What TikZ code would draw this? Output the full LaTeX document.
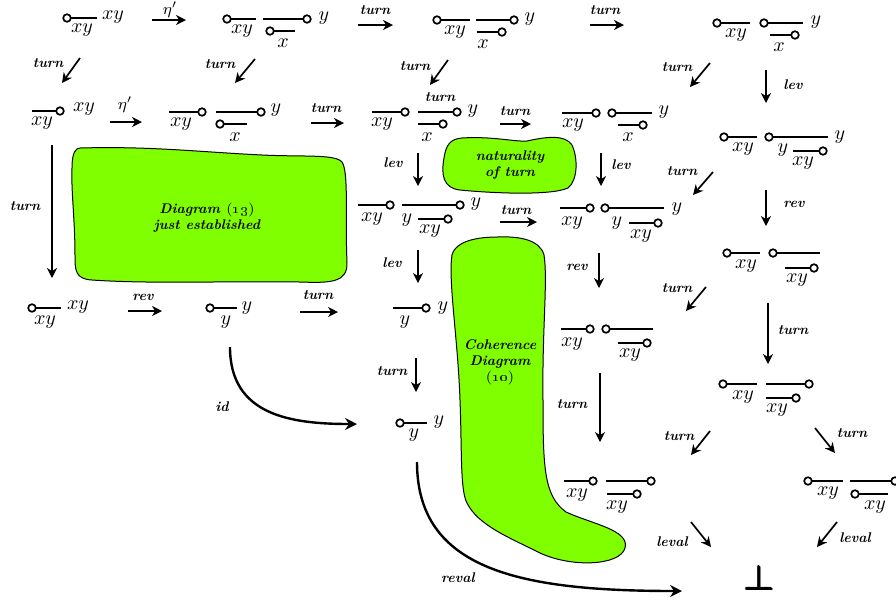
\documentclass[tikz,border=0pt]{standalone}
\usepackage{amsmath,bm}
\usetikzlibrary{arrows.meta}
\definecolor{blobgreen}{RGB}{128,255,0}
\tikzset{
  strand/.style={line width=1pt},
  knob/.style={line width=0.85pt, fill=white},
  mor/.style={line width=0.85pt, -{Stealth[length=5pt,width=5pt,inset=1.6pt]}},
  bigmor/.style={line width=1.2pt, -{Stealth[length=6pt,width=6pt,inset=2pt]}},
  lab/.style={inner sep=0pt},
  mlab/.style={inner sep=0pt, font=\scriptsize\bfseries\itshape},
  blob/.style={fill=blobgreen, draw=black, line width=0.5pt},
  blobtext/.style={inner sep=0pt, align=center, font=\scriptsize\bfseries\itshape},
}
% strand with its knob on the left end / on the right end
\newcommand\sL[3]{\draw[strand] (#1,#3) -- (#2,#3); \draw[knob] (#1,#3) circle[radius=1.9pt];}
\newcommand\sR[3]{\draw[strand] (#1,#3) -- (#2,#3); \draw[knob] (#2,#3) circle[radius=1.9pt];}
% straight morphism between two named points
\newcommand\mor[3]{\coordinate (#1-s) at (#2); \coordinate (#1-t) at (#3); \draw[mor] (#1-s) -- (#1-t);}
\begin{document}
\begin{tikzpicture}[x=0.5pt,y=-0.5pt]
\useasboundingbox (0,0) rectangle (896,602);

% ---- regions ----
\draw[blob] (80,148) .. controls (150,146) and (200,152) .. (262,155)
  .. controls (305,157) and (335,154) .. (342,162)
  .. controls (349,172) and (345,220) .. (347,262)
  .. controls (348,283) and (330,283) .. (300,282)
  .. controls (220,281) and (150,284) .. (92,280)
  .. controls (75,279) and (75,270) .. (75,255)
  .. controls (75,220) and (71,190) .. (72,168)
  .. controls (72,152) and (76,148) .. (80,148) -- cycle;
\node[blobtext] (d13) at (207,218) {Diagram \textnormal{(\oldstylenums{13})}\\just established};

\draw[blob] (462,138) .. controls (492,136) and (515,142) .. (527,141)
  .. controls (545,137) and (565,134) .. (572,145)
  .. controls (578,158) and (578,180) .. (568,188)
  .. controls (550,196) and (490,193) .. (460,190)
  .. controls (443,188) and (441,175) .. (444,158)
  .. controls (446,145) and (450,139) .. (462,138) -- cycle;
\node[blobtext] (nat) at (510,165) {naturality\\of turn};

\draw[blob] (497,237) .. controls (520,236) and (540,240) .. (544,255)
  .. controls (548,280) and (542,330) .. (543,400)
  .. controls (543,468) and (544,496) .. (566,512)
  .. controls (592,524) and (630,530) .. (625,548)
  .. controls (620,566) and (570,568) .. (538,552)
  .. controls (508,537) and (478,525) .. (467,503)
  .. controls (460,490) and (462,450) .. (460,400)
  .. controls (458,340) and (448,280) .. (452,255)
  .. controls (456,240) and (480,237) .. (497,237) -- cycle;
\node[blobtext] (coh) at (500,362) {Coherence\\Diagram\\\textnormal{(\oldstylenums{10})}};

% ---- row 1 ----
\sL{67}{97}{18} \node[lab] (o1a) at (82,30) {$xy$}; \node[lab] (o1b) at (113,17) {$xy$};
\mor{a1}{152,20}{186,20} \node[lab,font=\footnotesize] (a1l) at (170,10) {$\eta'$};
\sL{227}{256}{19} \node[lab] (o2a) at (242,31) {$xy$};
\sR{263}{307}{19} \node[lab] (o2b) at (324,18) {$y$};
\sL{270}{295}{31} \node[lab] (o2c) at (283,43) {$x$};
\mor{a2}{358,25}{393,25} \node[mlab] (a2l) at (375,10) {turn};
\sL{437}{470}{20} \node[lab] (o3a) at (455,32) {$xy$};
\sR{476}{514}{20} \node[lab] (o3b) at (530,19) {$y$};
\sR{477}{502}{32} \node[lab] (o3c) at (483,44) {$x$};
\mor{a3}{590,25}{624,25} \node[mlab] (a3l) at (605,10) {turn};
\sL{717}{750}{23} \node[lab] (o4a) at (736,35) {$xy$};
\sL{764}{803}{23} \node[lab] (o4b) at (816,22) {$y$};
\sR{770}{795}{35} \node[lab] (o4c) at (779,47) {$x$};

% ---- row 1 to row 2 ----
\mor{b1}{80,58}{62,83} \node[mlab] (b1l) at (48,63) {turn};
\mor{b2}{255,59}{235,83} \node[mlab] (b2l) at (220,64) {turn};
\mor{b3}{448,60}{430,85} \node[mlab] (b3l) at (415,66) {turn};
\mor{b4}{710,63}{690,87} \node[mlab] (b4l) at (677,67) {turn};
\mor{b5}{766,70}{766,103} \node[mlab] (b5l) at (793,85) {lev};

% ---- row 2 ----
\sR{32}{60}{111} \node[lab] (p1a) at (42,123) {$xy$}; \node[lab] (p1b) at (84,109) {$xy$};
\mor{c1}{110,122}{142,122} \node[lab,font=\footnotesize] (c1l) at (125,105) {$\eta'$};
\sR{169}{202}{112} \node[lab] (p2a) at (181,124) {$xy$};
\sR{216}{261}{112} \node[lab] (p2b) at (276,110) {$y$};
\sL{220}{247}{124} \node[lab] (p2c) at (235,137) {$x$};
\mor{c2}{311,123}{344,123} \node[mlab] (c2l) at (326,108) {turn};
\sR{372}{405}{112} \node[lab] (p3a) at (382,124) {$xy$};
\sR{418}{457}{112} \node[lab] (p3b) at (473,111) {$y$};
\sR{418}{443}{124} \node[lab] (p3c) at (427,137) {$x$};
\node[mlab] (p3t) at (440,97) {turn};
\mor{c3}{500,124}{531,124} \node[mlab] (c3l) at (515,111) {turn};
\sR{562}{596}{113} \node[lab] (p4a) at (573,125) {$xy$};
\sL{612}{652}{113} \node[lab] (p4b) at (664,112) {$y$};
\sR{618}{643}{125} \node[lab] (p4c) at (628,137) {$x$};

\sL{724}{757}{137} \node[lab] (r2a) at (743,149) {$xy$};
\sL{769}{828}{137} \node[lab] (r2b) at (840,137) {$y$};
\node[lab] (r2c) at (783,150) {$y$};
\sR{793}{823}{151} \node[lab] (r2d) at (803,163) {$xy$};

\mor{d1}{418,153}{418,186} \node[mlab] (d1l) at (393,163) {lev};
\mor{d2}{601,153}{601,186} \node[mlab] (d2l) at (621,165) {lev};
\mor{d3}{713,172}{693,195} \node[mlab] (d3l) at (682,171) {turn};
\mor{d4}{766,190}{766,226} \node[mlab] (d4l) at (794,204) {rev};

% ---- row 3 ----
\sR{358}{390}{205} \node[lab] (q1a) at (372,219) {$xy$};
\sR{402}{460}{205} \node[lab] (q1b) at (476,204) {$y$};
\node[lab] (q1c) at (407,220) {$y$};
\sR{418}{448}{219} \node[lab] (q1d) at (430,231) {$xy$};
\mor{e1}{500,222}{537,222} \node[mlab] (e1l) at (516,210) {turn};
\sR{560}{590}{208} \node[lab] (q2a) at (572,223) {$xy$};
\sL{605}{664}{208} \node[lab] (q2b) at (677,209) {$y$};
\node[lab] (q2c) at (617,223) {$y$};
\sR{629}{658}{223} \node[lab] (q2d) at (641,236) {$xy$};

\sL{727}{760}{253} \node[lab] (r3a) at (746,266) {$xy$};
\sL{773}{820}{253}
\sR{785}{814}{268} \node[lab] (r3b) at (797,280) {$xy$};

\mor{f1}{599,253}{599,288} \node[mlab] (f1l) at (577,267) {rev};
\mor{f2}{706,287}{686,311} \node[mlab] (f2l) at (677,288) {turn};
\mor{f3}{768,303}{768,364} \node[mlab] (f3l) at (793,330) {turn};

\sR{561}{590}{329} \node[lab] (q3a) at (572,344) {$xy$};
\sL{606}{653}{329}
\sR{618}{647}{343} \node[lab] (q3b) at (630,355) {$xy$};

\sL{723}{757}{384} \node[lab] (r4a) at (743,397) {$xy$};
\sR{766}{809}{384}
\sR{766}{796}{398} \node[lab] (r4b) at (777,410) {$xy$};

\mor{g1}{600,373}{600,442} \node[mlab] (g1l) at (572,404) {turn};
\mor{g2}{710,431}{691,455} \node[mlab] (g2l) at (679,436) {turn};
\mor{g3}{815,428}{835,453} \node[mlab] (g3l) at (852,433) {turn};

\sR{564}{593}{481} \node[lab] (q4a) at (577,495) {$xy$};
\sR{606}{651}{481}
\sR{607}{637}{494} \node[lab] (q4b) at (617,507) {$xy$};

\sL{808}{843}{481} \node[lab] (r5a) at (828,493) {$xy$};
\sR{850}{895}{481}
\sL{855}{888}{494} \node[lab] (r5b) at (875,507) {$xy$};

\mor{h1}{691,522}{711,547} \node[mlab] (h1l) at (672,542) {leval};
\mor{h2}{837,522}{817,547} \node[mlab] (h2l) at (855,538) {leval};
\node[lab,font=\LARGE] (bot) at (760,578) {$\pmb{\bm{\perp}}$};

% ---- left column and bottom row ----
\mor{k1}{52,145}{52,278} \node[mlab] (k1l) at (25,206) {turn};
\sL{32}{61}{308} \node[lab] (s1a) at (45,322) {$xy$}; \node[lab] (s1b) at (78,307) {$xy$};
\mor{k2}{128,311}{162,311} \node[mlab] (k2l) at (143,297) {rev};
\sL{210}{237}{308} \node[lab] (s2a) at (226,322) {$y$}; \node[lab] (s2b) at (247,308) {$y$};
\mor{k3}{300,312}{338,312} \node[mlab] (k3l) at (318,295) {turn};
\sR{393}{426}{308} \node[lab] (s3a) at (405,322) {$y$}; \node[lab] (s3b) at (443,308) {$y$};
\mor{k4}{418,250}{418,283} \node[mlab] (k4l) at (392,263) {lev};
\mor{k5}{416,358}{416,392} \node[mlab] (k5l) at (392,371) {turn};
\sL{400}{427}{423} \node[lab] (s4a) at (414,435) {$y$}; \node[lab] (s4b) at (439,422) {$y$};

% curved morphisms
\coordinate (id-s) at (230,347); \coordinate (id-t) at (357,424);
\draw[bigmor] (id-s) .. controls (230,415) and (290,424) .. (id-t);
\node[mlab] (idl) at (222,407) {id};
\coordinate (rv-s) at (417,462); \coordinate (rv-t) at (682,591);
\draw[bigmor] (rv-s) .. controls (417,570) and (520,591) .. (rv-t);
\node[mlab] (rvl) at (458,578) {reval};
\end{tikzpicture}
\end{document}
